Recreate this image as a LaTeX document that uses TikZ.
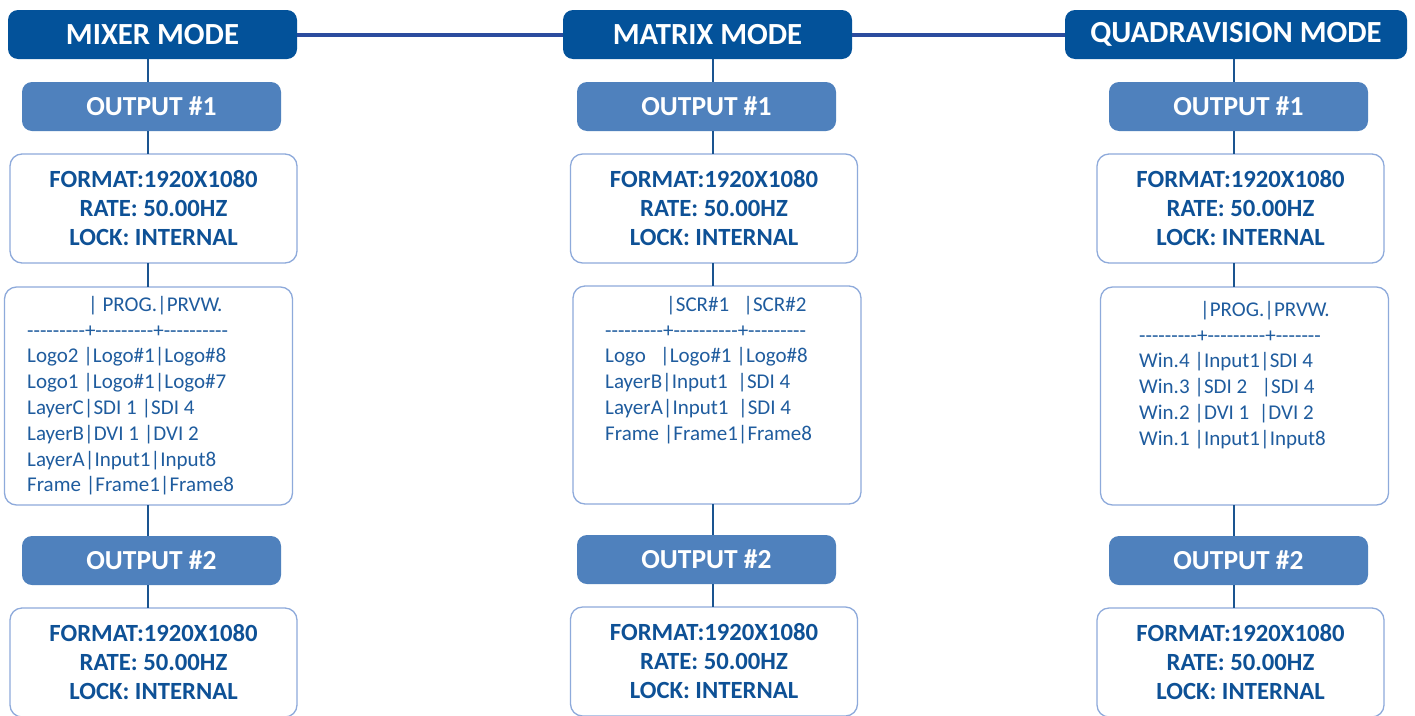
\documentclass[tikz,border=0pt]{standalone}
\usepackage{fontspec}
\setmainfont{Carlito}
\newfontfamily\tabfont{Carlito}[Ligatures=TeXOff]
\usepackage{xcolor}
\usetikzlibrary{positioning}

\definecolor{modeblue}{HTML}{03529A}
\definecolor{outblue}{HTML}{4F81BD}
\definecolor{edgeblue}{HTML}{8EAADB}
\definecolor{textblue}{HTML}{0E5196}
\definecolor{tblblue}{HTML}{1F5C9E}
\definecolor{barblue}{HTML}{2B4C9E}
\definecolor{stemblue}{HTML}{1A5490}

\begin{document}
\begin{tikzpicture}[x=1pt, y=-1pt,
    modebox/.style={rectangle, fill=modeblue, rounded corners=10pt, minimum width=289pt,
    minimum height=49pt, inner sep=0pt, outer sep=0pt, text=white,
    font=\fontsize{30.7}{36}\selectfont\bfseries},
    outbox/.style={rectangle, fill=outblue, rounded corners=10pt, minimum width=259pt,
    minimum height=49pt, inner sep=0pt, outer sep=0pt, text=white,
    font=\fontsize{27.5}{32}\selectfont\bfseries},
    fmtbox/.style={rectangle, draw=edgeblue, line width=1.3pt, fill=white, rounded corners=12pt,
    minimum width=287pt, minimum height=109pt, inner sep=0pt, outer sep=0pt, align=center,
    text=textblue, font=\fontsize{24.7}{29}\selectfont\bfseries},
    tblbox/.style={rectangle, draw=edgeblue, line width=1.3pt, fill=white, rounded corners=12pt,
    minimum width=288pt, minimum height=218pt, inner sep=0pt, outer sep=0pt},
    tbltext/.style={anchor=north west, align=left, inner sep=0pt, text=tblblue,
    font=\tabfont\fontsize{21}{25.8}\selectfont},
    stem/.style={draw=stemblue, line width=2.6pt},
    bar/.style={draw=barblue, line width=4pt}
]

\useasboundingbox (0,0) rectangle (1415,715);
\clip (0,0) rectangle (1415,715);
\fill[white] (0,0) rectangle (1415,715);

% mixer mode
\node[modebox] (mix-mode) at (152.5,34.5) {MIXER MODE};
\node[outbox, below=23pt of mix-mode, xshift=-1pt] (mix-out1) {OUTPUT \#1};
\node[fmtbox, below=23pt of mix-out1, xshift=2pt] (mix-fmt1) {FORMAT:1920X1080\\RATE: 50.00HZ\\LOCK: INTERNAL};
\node[tblbox, below=24pt of mix-fmt1, xshift=-5pt] (mix-tbl) {};
\node[outbox, below=31pt of mix-tbl, xshift=3pt] (mix-out2) {OUTPUT \#2};
\node[fmtbox, below=23pt of mix-out2, xshift=2pt] (mix-fmt2) {FORMAT:1920X1080\\RATE: 50.00HZ\\LOCK: INTERNAL};
\node[tbltext] (mix-txt) at (27,296) {\hspace*{61pt}| PROG.|PRVW.\\
---------+---------+----------\\
Logo2 |Logo\#1|Logo\#8\\
Logo1 |Logo\#1|Logo\#7\\
LayerC|SDI 1 |SDI 4\\
LayerB|DVI 1 |DVI 2\\
LayerA|Input1|Input8\\
Frame |Frame1|Frame8};

% matrix mode
\node[modebox] (mat-mode) at (707.5,34.5) {MATRIX MODE};
\node[outbox, below=23pt of mat-mode, xshift=-1pt] (mat-out1) {OUTPUT \#1};
\node[fmtbox, below=23pt of mat-out1, xshift=7.5pt] (mat-fmt1) {FORMAT:1920X1080\\RATE: 50.00HZ\\LOCK: INTERNAL};
\node[tblbox, below=23pt of mat-fmt1, xshift=3pt] (mat-tbl) {};
\node[outbox, below=31pt of mat-tbl, xshift=-10.5pt] (mat-out2) {OUTPUT \#2};
\node[fmtbox, below=23pt of mat-out2, xshift=7.5pt] (mat-fmt2) {FORMAT:1920X1080\\RATE: 50.00HZ\\LOCK: INTERNAL};
\node[tbltext] (mat-txt) at (605,296) {\hspace*{61pt}|SCR\#1~~~|SCR\#2\\
---------+----------+---------\\
Logo~~~|Logo\#1 |Logo\#8\\
LayerB|Input1~~|SDI 4\\
LayerA|Input1~~|SDI 4\\
Frame |Frame1|Frame8};

% quadravision mode
\node[modebox, minimum width=342pt] (quad-mode) at (1236,34.5) {QUADRAVISION MODE};
\node[outbox, below=23pt of quad-mode, xshift=2.5pt] (quad-out1) {OUTPUT \#1};
\node[fmtbox, below=23pt of quad-out1, xshift=2pt] (quad-fmt1) {FORMAT:1920X1080\\RATE: 50.00HZ\\LOCK: INTERNAL};
\node[tblbox, below=24pt of quad-fmt1, xshift=4pt] (quad-tbl) {};
\node[outbox, below=31pt of quad-tbl, xshift=-6pt] (quad-out2) {OUTPUT \#2};
\node[fmtbox, below=23pt of quad-out2, xshift=2pt] (quad-fmt2) {FORMAT:1920X1080\\RATE: 50.00HZ\\LOCK: INTERNAL};
\node[tbltext] (quad-txt) at (1139,301) {\hspace*{61pt}|PROG.|PRVW.\\
---------+---------+-------\\
Win.4 |Input1|SDI 4\\
Win.3 |SDI 2~~~|SDI 4\\
Win.2 |DVI 1~~|DVI 2\\
Win.1 |Input1|Input8};

% stems and links
\coordinate (mix-x) at (148,0);
\coordinate (mat-x) at (713,0);
\coordinate (quad-x) at (1234,0);
\foreach \c in {mix, mat, quad} {
  \draw[stem] (\c-mode.south -| \c-x) -- (\c-out1.north -| \c-x);
  \draw[stem] (\c-out1.south -| \c-x) -- (\c-fmt1.north -| \c-x);
  \draw[stem] (\c-fmt1.south -| \c-x) -- (\c-tbl.north -| \c-x);
  \draw[stem] (\c-tbl.south -| \c-x) -- (\c-out2.north -| \c-x);
  \draw[stem] (\c-out2.south -| \c-x) -- (\c-fmt2.north -| \c-x);
}
\draw[bar] (mix-mode.east) -- (mat-mode.west);
\draw[bar] (mat-mode.east) -- (quad-mode.west);

\end{tikzpicture}
\end{document}
